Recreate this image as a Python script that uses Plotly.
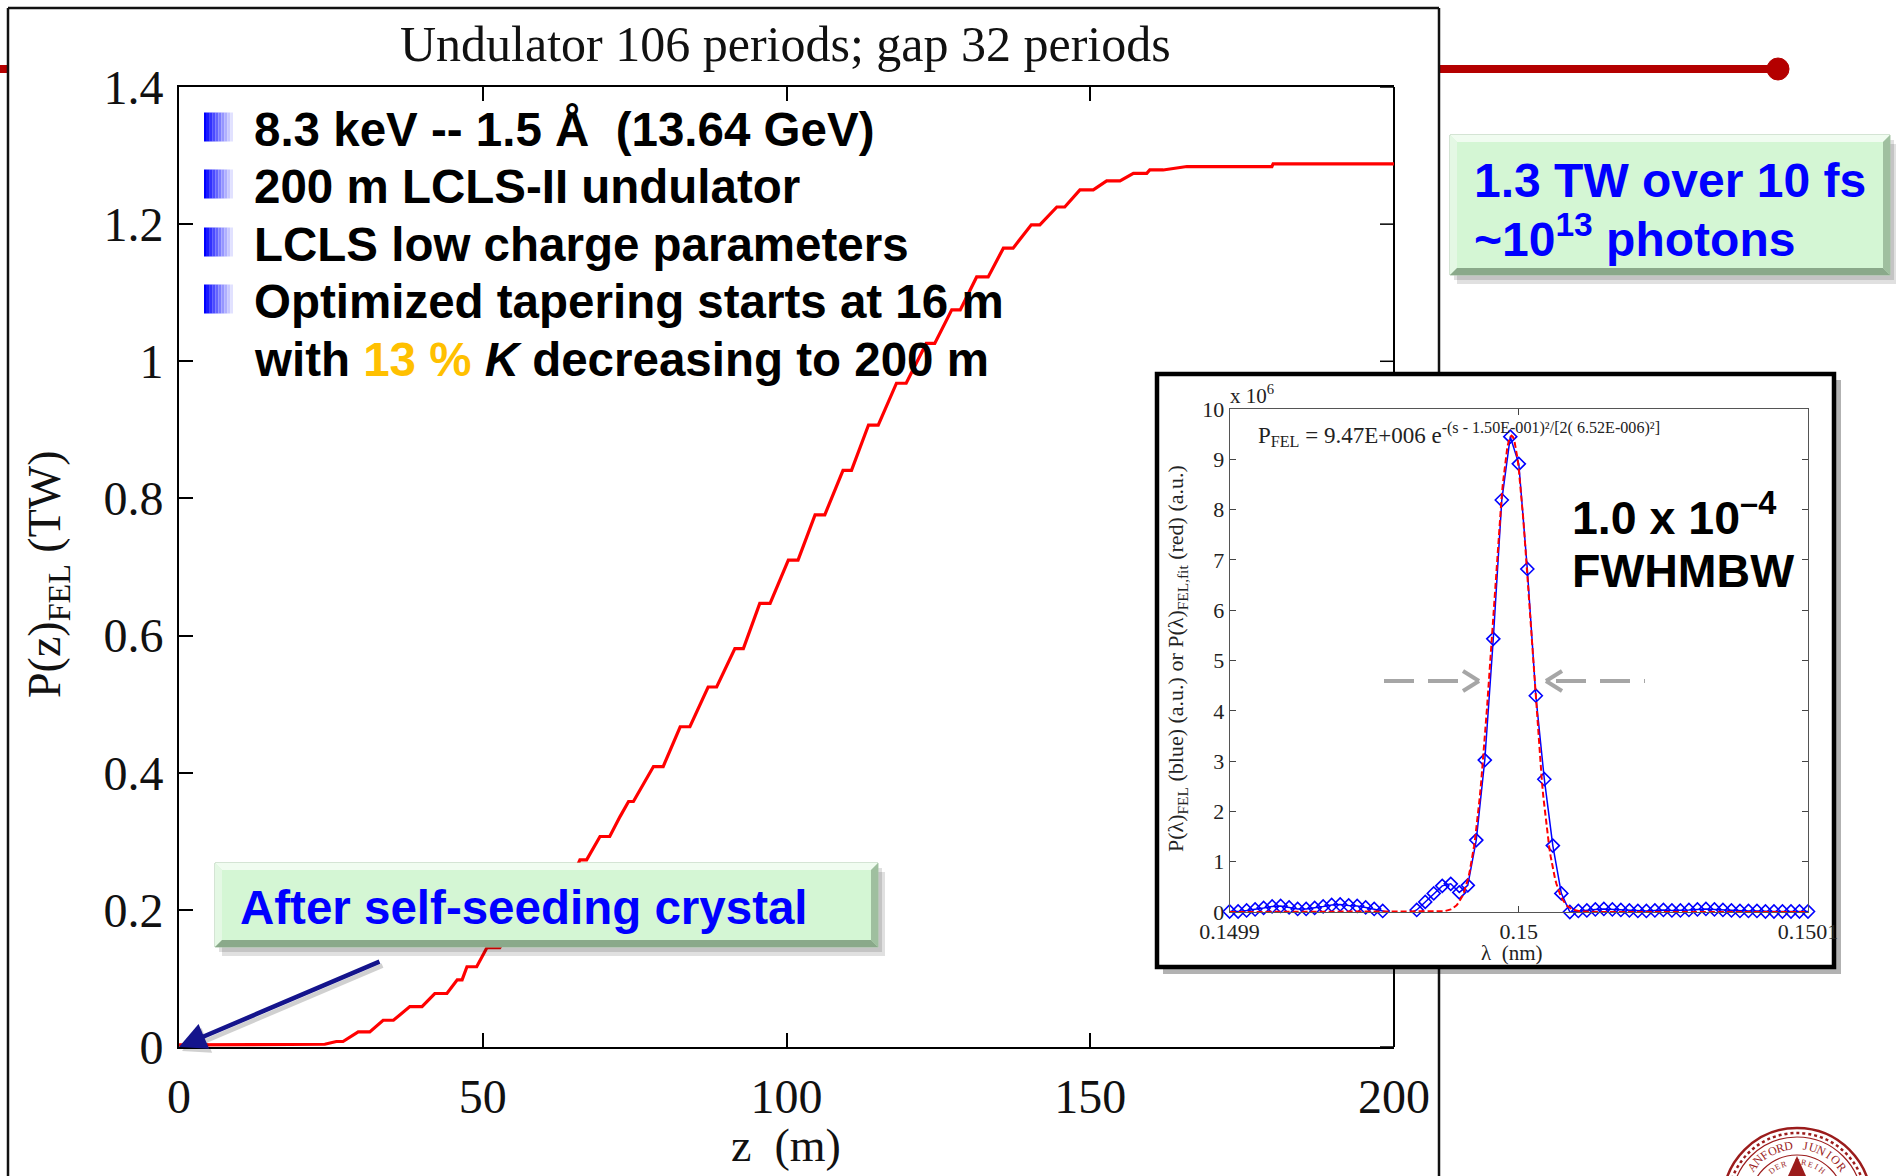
import numpy as np
import plotly.graph_objects as go

W, H = 1896, 1176


def px(x):
    return x / W


def py(y):
    return 1 - y / H


# ---------------- main curve: FEL power along the undulator ----------------
z_m = [0.0, 24.0, 25.9, 27.0, 29.5, 31.4, 33.6, 35.3, 38.0, 40.0, 42.1, 44.1,
       45.8, 46.6, 47.4, 49.0, 50.7, 52.8, 54.8, 56.2, 58.8, 60.2, 62.8, 64.2,
       66.0, 67.1, 69.3, 70.9, 72.6, 74.0, 74.8, 78.1, 79.7, 82.5, 84.1, 87.1,
       88.5, 91.5, 92.9, 95.6, 97.3, 100.3, 101.9, 104.7, 106.3, 109.3, 110.7,
       113.5, 115.1, 118.1, 119.7, 123.0, 124.4, 127.2, 128.6, 131.3, 133.2,
       135.7, 137.3, 140.3, 141.7, 144.5, 145.8, 148.3, 150.5, 152.7, 154.9,
       157.1, 159.3, 159.8, 162.0, 165.9, 179.9, 180.1, 200.0]
p_tw = [0.003, 0.004, 0.008, 0.008, 0.022, 0.022, 0.039, 0.039, 0.059, 0.059,
        0.078, 0.078, 0.098, 0.098, 0.117, 0.117, 0.145, 0.145, 0.172, 0.172,
        0.203, 0.203, 0.237, 0.237, 0.273, 0.273, 0.307, 0.307, 0.336, 0.358,
        0.358, 0.409, 0.409, 0.467, 0.467, 0.525, 0.525, 0.581, 0.581, 0.647,
        0.647, 0.710, 0.710, 0.776, 0.776, 0.841, 0.841, 0.907, 0.907, 0.968,
        0.968, 1.026, 1.026, 1.075, 1.075, 1.123, 1.123, 1.165, 1.165, 1.199,
        1.199, 1.225, 1.225, 1.250, 1.250, 1.263, 1.263, 1.274, 1.274, 1.279,
        1.279, 1.284, 1.284, 1.288, 1.288]
z_ticks = [0, 50, 100, 150, 200]
p_ticks = [0, 0.2, 0.4, 0.6, 0.8, 1.0, 1.2, 1.4]
p_ticktext = ["0", "0.2", "0.4", "0.6", "0.8", "1", "1.2", "1.4"]

# ---------------- inset: output spectrum ----------------
lam_nm = np.linspace(0.1499, 0.1501, 69)
p_spec = [0.01, 0.01, 0.03, 0.05, 0.08, 0.11, 0.12, 0.09, 0.06, 0.06, 0.08, 0.11,
          0.14, 0.15, 0.13, 0.12, 0.09, 0.06, 0.02, -0.02, -0.05, -0.04, 0.04,
          0.20, 0.37, 0.52, 0.56, 0.39, 0.53, 1.43, 3.02, 5.43, 8.19, 9.45, 8.91,
          6.82, 4.30, 2.64, 1.32, 0.37, 0.0,
          0.02, 0.03, 0.05, 0.06, 0.05, 0.04, 0.03, 0.02, 0.02, 0.03, 0.04, 0.03,
          0.03, 0.04, 0.05, 0.06, 0.05, 0.04, 0.03, 0.02, 0.02, 0.02, 0.01, 0.01,
          0.01, 0.01, 0.01, 0.01]
lam_ticks = [0.1499, 0.15, 0.1501]
lam_ticktext = ["0.1499", "0.15", "0.1501"]
spec_ticks = list(range(0, 11))

# Gaussian fit parameters (amplitude in units of 1e6)
fit_amp = 9.47
fit_center = 0.1499975
fit_sigma = 6.52e-6
lam_fit = np.linspace(0.1499, 0.1501, 401)
p_fit = fit_amp * np.exp(-(lam_fit - fit_center) ** 2 / (2 * fit_sigma ** 2))

SERIF = "Liberation Serif"
SANS = "Liberation Sans"

fig = go.Figure()

fig.add_trace(go.Scatter(
    x=z_m, y=p_tw, mode="lines", xaxis="x", yaxis="y",
    line=dict(color="#ff0000", width=3.2), hoverinfo="skip"))

fig.add_trace(go.Scatter(
    x=lam_nm, y=p_spec, mode="lines+markers", xaxis="x2", yaxis="y2",
    line=dict(color="#0000ff", width=1.5),
    marker=dict(symbol="diamond-open", size=10, color="#0000ff",
                line=dict(width=1.6, color="#0000ff")),
    cliponaxis=False, hoverinfo="skip"))

fig.add_trace(go.Scatter(
    x=lam_fit, y=p_fit, mode="lines", xaxis="x2", yaxis="y2",
    line=dict(color="#ff0000", width=2, dash="6px,3px"), hoverinfo="skip"))

# main plot box in pixels
MX0, MX1, MY0, MY1 = 179, 1394, 87, 1047
# inset plot box in pixels
IX0, IX1, IY0, IY1 = 1229.6, 1808, 409, 912

fig.update_layout(
    width=W, height=H,
    margin=dict(l=0, r=0, t=0, b=0, pad=0, autoexpand=False),
    paper_bgcolor="white", plot_bgcolor="rgba(0,0,0,0)", showlegend=False,
    xaxis=dict(domain=[px(MX0), px(MX1)], range=[0, 200], tickvals=z_ticks,
               ticks="inside", ticklen=14, tickwidth=1.5, tickcolor="black",
               showline=True, linecolor="black", linewidth=2, mirror="ticks",
               showgrid=False, zeroline=False, anchor="y",
               ticklabelstandoff=6, automargin=False,
               tickfont=dict(family=SERIF, size=48, color="#111")),
    yaxis=dict(domain=[py(MY1), py(MY0)], range=[0, 1.4], tickvals=p_ticks,
               ticktext=p_ticktext, ticks="inside", ticklen=14, tickwidth=1.5,
               tickcolor="black", showline=True, linecolor="black", linewidth=2,
               mirror=False, showgrid=False, zeroline=False, anchor="x",
               ticklabelstandoff=4, automargin=False,
               tickfont=dict(family=SERIF, size=48, color="#111")),
    xaxis2=dict(domain=[px(IX0), px(IX1)], range=[0.1499, 0.1501],
                tickvals=lam_ticks, ticktext=lam_ticktext, ticks="inside",
                ticklen=6, tickcolor="#444", showline=True, linecolor="#555",
                linewidth=1, mirror="ticks", showgrid=False, zeroline=False,
                anchor="y2", ticklabelstandoff=0, automargin=False,
                tickfont=dict(family=SERIF, size=22, color="#222")),
    yaxis2=dict(domain=[py(IY1), py(IY0)], range=[0, 10], tickvals=spec_ticks,
                ticks="inside", ticklen=6, tickcolor="#444", showline=True,
                linecolor="#555", linewidth=1, mirror="ticks", showgrid=False,
                zeroline=False, anchor="x2", ticklabelstandoff=0,
                automargin=False,
                tickfont=dict(family=SERIF, size=22, color="#222")),
)

shapes = []


def rect(x0, y0, x1, y1, fill, line_color=None, lw=0, layer="above"):
    shapes.append(dict(type="rect", xref="paper", yref="paper",
                       x0=px(x0), x1=px(x1), y0=py(y1), y1=py(y0),
                       fillcolor=fill, layer=layer,
                       line=dict(color=line_color or fill, width=lw)))


def seg(x0, y0, x1, y1, color, width, dash="solid", layer="above"):
    shapes.append(dict(type="line", xref="paper", yref="paper",
                       x0=px(x0), x1=px(x1), y0=py(y0), y1=py(y1),
                       layer=layer, line=dict(color=color, width=width, dash=dash)))


def poly(points, fill, layer="above"):
    d = "M " + " L ".join(f"{px(x):.6f},{py(y):.6f}" for x, y in points) + " Z"
    shapes.append(dict(type="path", xref="paper", yref="paper", path=d,
                       fillcolor=fill, layer=layer, line=dict(width=0)))


def circle(cx, cy, r, color, width, dash="solid", fill="rgba(0,0,0,0)"):
    shapes.append(dict(type="circle", xref="paper", yref="paper",
                       x0=px(cx - r), x1=px(cx + r), y0=py(cy + r), y1=py(cy - r),
                       fillcolor=fill, layer="above",
                       line=dict(color=color, width=width, dash=dash)))


# header rule with end dot
seg(0, 69, 9, 69, "#b40000", 8, layer="below")
seg(1439, 69, 1778, 69, "#b40000", 8, layer="below")
circle(1778, 69, 11, "#b40000", 1, fill="#b40000")

# frame around the figure panel
seg(8, 8, 1439, 8, "#111", 2.5, layer="below")
seg(8, 8, 8, 1176, "#111", 2.5, layer="below")
seg(1439, 8, 1439, 1176, "#111", 2.5, layer="below")

# right-hand edge of the main axes, with its ticks
seg(MX1, MY0, MX1, MY1, "black", 2, layer="below")
for v in p_ticks:
    yy = MY1 - v * (MY1 - MY0) / 1.4
    seg(MX1 - 14, yy, MX1, yy, "black", 1.5, layer="below")

# inset panel: shadow, white face and heavy border
rect(1163, 380, 1841, 974, "rgba(0,0,0,0.30)", layer="below")
rect(1157, 374, 1834, 967, "white", "black", 4.5, layer="below")


def bevel_box(x0, y0, x1, y1, b=7):
    rect(x0 + 4, y0 + 5, x1 + 4, y1 + 5, "rgba(0,0,0,0.12)")
    rect(x0 + 7, y0 + 9, x1 + 7, y1 + 9, "rgba(0,0,0,0.12)")
    rect(x0, y0, x1, y1, "#d4f6d4", "#a9c8a9", 1)
    poly([(x0, y0), (x1, y0), (x1 - b, y0 + b), (x0 + b, y0 + b)], "#f0fcf0")
    poly([(x0, y0), (x0 + b, y0 + b), (x0 + b, y1 - b), (x0, y1)], "#e4f8e4")
    poly([(x1, y0), (x1, y1), (x1 - b, y1 - b), (x1 - b, y0 + b)], "#9fbf9f")
    poly([(x0, y1), (x1, y1), (x1 - b, y1 - b), (x0 + b, y1 - b)], "#8aa98a")


bevel_box(1450, 135, 1890, 275)
bevel_box(215, 863, 878, 947)

# bullet squares with a blue-to-white fade
for yc in [127, 184, 242, 299]:
    n = 10
    for k in range(n):
        t = k / (n - 1)
        c = f"rgb({int(225 * t)},{int(225 * t)},255)"
        rect(204 + k * 2.9, yc - 14.5, 204 + (k + 1) * 2.9, yc + 14.5, c)

# grey dashed width markers
seg(1384, 681, 1472, 681, "#a6a6a6", 4, dash="30px,14px")
seg(1463, 671, 1479, 681, "#a6a6a6", 4)
seg(1463, 691, 1479, 681, "#a6a6a6", 4)
seg(1556, 681, 1645, 681, "#a6a6a6", 4, dash="30px,14px")
seg(1562, 671, 1546, 681, "#a6a6a6", 4)
seg(1562, 691, 1546, 681, "#a6a6a6", 4)

# university seal in the corner
SEAL = "#9b1c1c"
SCX, SCY = 1797, 1202
circle(SCX, SCY, 74, SEAL, 2.5)
circle(SCX, SCY, 69, SEAL, 2.5, dash="dot")
circle(SCX, SCY, 65, SEAL, 1.2)
circle(SCX, SCY, 47, SEAL, 1.2)
poly([(1797, 1156), (1788, 1176), (1806, 1176)], SEAL)

fig.update_layout(shapes=shapes)

ann = []


def text(x, y, s, size, family=SANS, color="black", xanchor="left",
         yanchor="middle", weight="normal", angle=0):
    ann.append(dict(xref="paper", yref="paper", x=px(x), y=py(y), text=s,
                    showarrow=False, xanchor=xanchor, yanchor=yanchor,
                    textangle=angle,
                    font=dict(family=family, size=size, color=color,
                              weight=weight)))


text(785, 44, "Undulator 106 periods; gap 32 periods", 50, SERIF, "#111",
     xanchor="center")
text(786, 1145, "z  (m)", 46, SERIF, "#111", xanchor="center")
text(48, 574, "P(z)<sub>FEL</sub> (TW)", 46, SERIF, "#111", xanchor="center",
     angle=-90)

bullets = [
    (129, "8.3 keV -- 1.5 Å  (13.64 GeV)"),
    (186, "200 m LCLS-II undulator"),
    (244, "LCLS low charge parameters"),
    (301, "Optimized tapering starts at 16 m"),
    (359, "with <span style='color:#ffc000'>13 %</span> <i>K</i> decreasing to 200 m"),
]
for yy, s in bullets:
    text(252, yy, s, 47.5, weight="bold")

text(1472, 180, "1.3 TW over 10 fs", 48, color="#0000ff", weight="bold")
text(1472, 236, "~10<sup>13</sup> photons", 48, color="#0000ff", weight="bold")
text(238, 907, "After self-seeding crystal", 47.5, color="#0000ff", weight="bold")

text(1570, 514, "1.0 x 10<sup>–4</sup>", 46.5, weight="bold")
text(1570, 571, "FWHMBW", 46.5, weight="bold")

# inset labels
text(1512, 953, "λ  (nm)", 21, SERIF, "#222", xanchor="center")
text(1177, 659,
     "P(λ)<sub>FEL</sub> (blue) (a.u.) or P(λ)<sub>FEL,fit</sub> (red) (a.u.)",
     22, SERIF, "#222", xanchor="center", angle=-90)
text(1228, 394, "x 10<sup>6</sup>", 21, SERIF, "#222")
text(1256, 434,
     "P<sub>FEL</sub> = 9.47E+006 e<sup>-(s - 1.50E-001)²/[2( 6.52E-006)²]</sup>",
     23, SERIF, "#222")

# seal lettering along the outer ring
ring = "LELAND STANFORD JUNIOR UNIVERSITY"
gap = ring.index(" JUNIOR")
step = 8.6
for i, ch in enumerate(ring):
    if ch == " ":
        continue
    a = 90 - (i - gap) * step
    r = 57
    x = SCX + r * np.cos(np.radians(a))
    y = SCY - r * np.sin(np.radians(a))
    if y > 1172:
        continue
    text(x, y, ch, 12, SERIF, SEAL, xanchor="center", angle=90 - a)

inner = "DIE LUFT DER FREIHEIT WEHT"
mid = len(inner) / 2
for i, ch in enumerate(inner):
    if ch == " ":
        continue
    a = 90 - (i - mid) * 9.5
    x = SCX + 40 * np.cos(np.radians(a))
    y = SCY - 40 * np.sin(np.radians(a))
    if y > 1172:
        continue
    text(x, y, ch, 8, SERIF, SEAL, xanchor="center", angle=90 - a)

# arrow pointing at the crystal position
ann.append(dict(xref="x", yref="y", x=0, y=0, ax=202, ay=-86, text="",
                showarrow=True, arrowhead=2, arrowsize=1.2, arrowwidth=4.5,
                arrowcolor="rgba(0,0,0,0.18)", xshift=3, yshift=-4, standoff=0))
ann.append(dict(xref="x", yref="y", x=0, y=0, ax=202, ay=-86, text="",
                showarrow=True, arrowhead=2, arrowsize=1.2, arrowwidth=4.5,
                arrowcolor="#14148c", standoff=0))

fig.update_layout(annotations=ann)

fig.write_html("out.html")
